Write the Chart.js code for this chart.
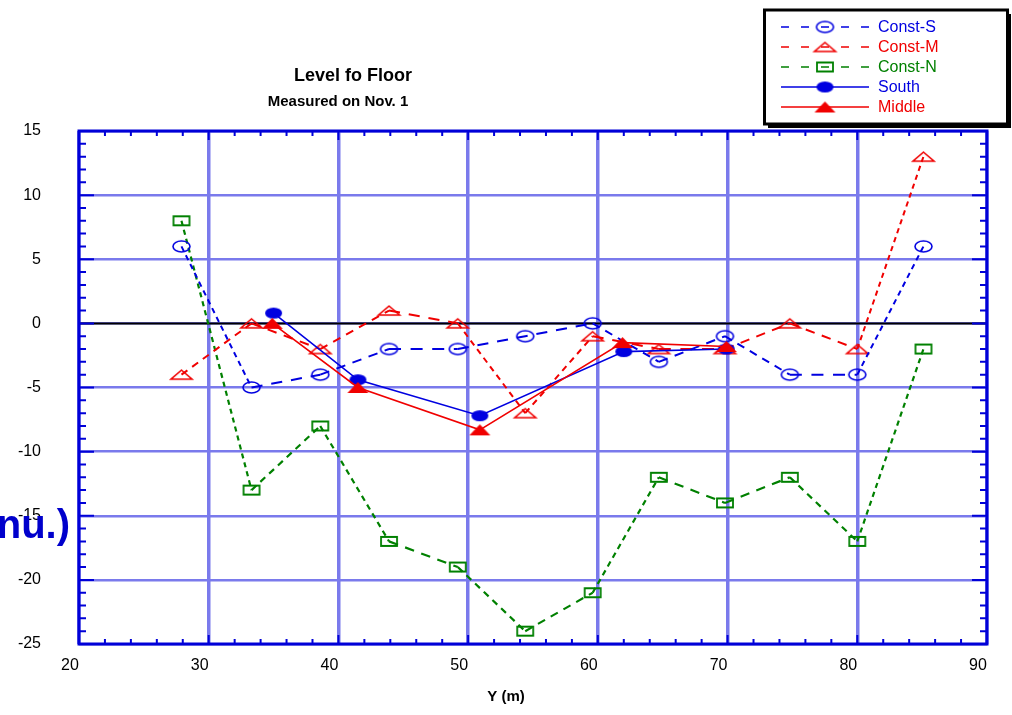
<!DOCTYPE html>
<html><head><meta charset="utf-8">
<script src="https://cdn.jsdelivr.net/npm/chart.js@4.4.1/dist/chart.umd.min.js"></script>
<style>html,body{margin:0;padding:0;background:#fff;overflow:hidden}#wrap{width:1012px;height:715px;position:relative}</style>
</head><body><div id="wrap"><canvas id="c" width="1012" height="715"></canvas></div>
<script>
// ---- data ----
const CONST_X   = [27.9, 33.3, 38.6, 43.9, 49.2, 54.4, 59.6, 64.7, 69.8, 74.8, 80.0, 85.1];
const CONST_S   = [6, -5, -4, -2, -2, -1, 0, -3, -1, -4, -4, 6];
const CONST_M   = [-4, 0, -2, 1, 0, -7, -1, -2, -2, 0, -2, 13];
const CONST_N   = [8, -13, -8, -17, -19, -24, -21, -12, -14, -12, -17, -2];
const SOUTH_X   = [35.0, 41.5, 50.9, 62.0, 69.9];
const SOUTH_Y   = [0.8, -4.4, -7.2, -2.2, -2.0];
const MIDDLE_X  = [34.9, 41.5, 50.9, 61.9, 69.9];
const MIDDLE_Y  = [0.0, -5.0, -8.3, -1.5, -1.8];
const SERIES_NAMES = ['Const-S', 'Const-M', 'Const-N', 'South', 'Middle'];
const X_TICKS = [20, 30, 40, 50, 60, 70, 80, 90];
const Y_TICKS = [-25, -20, -15, -10, -5, 0, 5, 10, 15];
const TITLE = 'Level fo Floor';
const SUBTITLE = 'Measured on Nov. 1';
const X_TITLE = 'Y (m)';
const Y_TITLE_FRAGMENT = 'nu.)';

// ---- styles ----
const BLUE = '#0000e0', RED = '#f00000', GREEN = '#008000';
const AXIS = '#0000d8', GRID = 'rgb(122,122,236)';
const FONT = '"Liberation Sans", Arial, Helvetica, sans-serif';
const STRETCH = 2.4;

function marker(shape, w, h, color, filled, lw) {
  const pad = Math.ceil(lw) + 1;
  const cv = document.createElement('canvas');
  cv.width = w + pad * 2; cv.height = h + pad * 2;
  const c = cv.getContext('2d');
  c.strokeStyle = color; c.fillStyle = color; c.lineWidth = lw;
  const cx = cv.width / 2, cy = cv.height / 2;
  c.beginPath();
  if (shape === 'ellipse') c.ellipse(cx, cy, w / 2, h / 2, 0, 0, Math.PI * 2);
  else if (shape === 'rect') c.rect(cx - w / 2, cy - h / 2, w, h);
  else { c.moveTo(cx, cy - h / 2); c.lineTo(cx + w / 2, cy + h / 2); c.lineTo(cx - w / 2, cy + h / 2); c.closePath(); }
  if (filled) c.fill(); else c.stroke();
  return cv;
}
function dashFor(base) {
  return ctx => {
    const dx = ctx.p1.x - ctx.p0.x, dy = ctx.p1.y - ctx.p0.y;
    const L = Math.hypot(dx, dy), Lo = Math.hypot(dx / STRETCH, dy);
    const f = Lo > 0 ? L / Lo : 1;
    return base.map(v => v * f);
  };
}
const toPts = (xs, ys) => xs.map((x, i) => ({x, y: ys[i]}));

const MK = {
  cs: marker('ellipse', 17, 11, BLUE, false, 1.6),
  cm: marker('tri', 21, 9, RED, false, 1.6),
  cn: marker('rect', 16, 9, GREEN, false, 1.8),
  so: marker('ellipse', 17, 11, BLUE, true, 1),
  mi: marker('tri', 21, 11, RED, true, 1)
};

const datasets = [
  {label: SERIES_NAMES[0], data: toPts(CONST_X, CONST_S), borderColor: BLUE, borderWidth: 2, pointStyle: MK.cs, segment: {borderDash: dashFor([5, 4])}, order: 2, dashLegend: true},
  {label: SERIES_NAMES[1], data: toPts(CONST_X, CONST_M), borderColor: RED, borderWidth: 2, pointStyle: MK.cm, segment: {borderDash: dashFor([5, 4])}, order: 3, dashLegend: true},
  {label: SERIES_NAMES[2], data: toPts(CONST_X, CONST_N), borderColor: GREEN, borderWidth: 2.2, pointStyle: MK.cn, segment: {borderDash: dashFor([5, 4])}, order: 4, dashLegend: true},
  {label: SERIES_NAMES[3], data: toPts(SOUTH_X, SOUTH_Y), borderColor: BLUE, borderWidth: 1.6, pointStyle: MK.so, order: 1},
  {label: SERIES_NAMES[4], data: toPts(MIDDLE_X, MIDDLE_Y), borderColor: RED, borderWidth: 1.6, pointStyle: MK.mi, order: 0}
];
datasets.forEach(d => { d.showLine = true; d.fill = false; d.tension = 0; d.pointRadius = 6; d.backgroundColor = d.borderColor; });

const framePlugin = {
  id: 'frame',
  beforeDatasetsDraw(chart) {
    const {ctx, chartArea: a, scales: {x, y}} = chart;
    ctx.save();
    const y0 = y.getPixelForValue(0);
    ctx.strokeStyle = '#000'; ctx.lineWidth = 2;
    ctx.beginPath(); ctx.moveTo(a.left, y0); ctx.lineTo(a.right, y0); ctx.stroke();
    ctx.strokeStyle = AXIS; ctx.lineWidth = 2;
    ctx.beginPath();
    for (let v = x.min; v <= x.max + 1e-9; v += 2) {
      const px = x.getPixelForValue(v), len = (Math.round(v) % 10 === 0) ? 9 : 5;
      ctx.moveTo(px, a.bottom); ctx.lineTo(px, a.bottom - len);
      ctx.moveTo(px, a.top); ctx.lineTo(px, a.top + len);
    }
    for (let v = y.min; v <= y.max + 1e-9; v += 1) {
      const py = y.getPixelForValue(v), len = (Math.round(v) % 5 === 0) ? 15 : 7;
      ctx.moveTo(a.left, py); ctx.lineTo(a.left + len, py);
      ctx.moveTo(a.right, py); ctx.lineTo(a.right - len, py);
    }
    ctx.stroke();
    ctx.lineWidth = 3;
    ctx.strokeRect(a.left, a.top, a.right - a.left, a.bottom - a.top);
    ctx.restore();
  },
  afterDraw(chart) {
    const {ctx} = chart;
    ctx.save();
    ctx.fillStyle = '#000'; ctx.textAlign = 'center'; ctx.textBaseline = 'middle';
    ctx.font = 'bold 18px ' + FONT; ctx.fillText(TITLE, 353, 76);
    ctx.font = 'bold 15px ' + FONT; ctx.fillText(SUBTITLE, 338, 102);
    ctx.font = 'bold 15px ' + FONT; ctx.fillText(X_TITLE, 506, 697);
    ctx.fillStyle = '#0000cc'; ctx.textAlign = 'right'; ctx.textBaseline = 'alphabetic';
    ctx.font = 'bold 40px ' + FONT; ctx.fillText(Y_TITLE_FRAGMENT, 70, 538);
    // legend box
    ctx.fillStyle = '#fff'; ctx.fillRect(764, 10, 243, 114);
    ctx.fillStyle = '#000';
    ctx.fillRect(768, 124, 243, 4); ctx.fillRect(1007, 14, 4, 114);
    ctx.strokeStyle = '#000'; ctx.lineWidth = 3;
    ctx.strokeRect(764.5, 10, 243, 114);
    const rows = [27, 47, 67, 87, 107];
    chart.data.datasets.forEach((d, i) => {
      const yy = rows[i];
      ctx.strokeStyle = d.borderColor; ctx.lineWidth = 1.6;
      ctx.setLineDash(d.dashLegend ? [8, 12] : []);
      ctx.beginPath(); ctx.moveTo(781, yy); ctx.lineTo(869, yy); ctx.stroke();
      ctx.setLineDash([]);
      const m = d.pointStyle;
      ctx.drawImage(m, 825 - m.width / 2, yy - m.height / 2);
      ctx.fillStyle = d.borderColor; ctx.textAlign = 'left'; ctx.textBaseline = 'middle';
      ctx.font = '16px ' + FONT;
      ctx.fillText(d.label, 878, yy + 1);
    });
    ctx.restore();
  }
};

new Chart(document.getElementById('c'), {
  type: 'line',
  data: {datasets},
  options: {
    responsive: false, animation: false, devicePixelRatio: 1,
    layout: {padding: {left: 0, top: 131, right: 25, bottom: 0}},
    plugins: {legend: {display: false}, title: {display: false}, tooltip: {enabled: false}},
    scales: {
      x: {
        type: 'linear', min: X_TICKS[0], max: X_TICKS[X_TICKS.length - 1],
        afterBuildTicks: s => { s.ticks = X_TICKS.map(v => ({value: v})); },
        afterFit: s => { s.height = 71; },
        grid: {color: GRID, lineWidth: 3.5, drawTicks: false},
        border: {display: false},
        ticks: {padding: 12, labelOffset: -9, color: '#000', font: {family: FONT, size: 16}, maxRotation: 0, autoSkip: false}
      },
      y: {
        type: 'linear', min: Y_TICKS[0], max: Y_TICKS[Y_TICKS.length - 1],
        afterBuildTicks: s => { s.ticks = Y_TICKS.map(v => ({value: v})); },
        afterFit: s => { s.width = 79; },
        grid: {color: GRID, lineWidth: 2.5, drawTicks: false},
        border: {display: false},
        ticks: {padding: 38, color: '#000', font: {family: FONT, size: 16}, autoSkip: false}
      }
    }
  },
  plugins: [framePlugin]
});
</script></body></html>
